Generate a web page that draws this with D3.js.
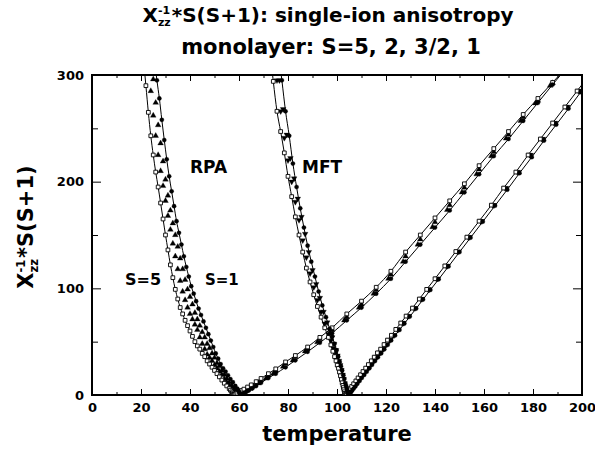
<!DOCTYPE html>
<html>
<head>
<meta charset="utf-8">
<script src="https://cdn.jsdelivr.net/npm/d3@7"></script>
<style>
  body { margin: 0; background: #fff; }
  svg text { font-family: "DejaVu Sans", "Liberation Sans", Arial, sans-serif; font-weight: bold; fill: #000; }
</style>
</head>
<body>
<svg id="chart" width="595" height="452"></svg>
<script>
  // tick values
  var xMajor = [0, 20, 40, 60, 80, 100, 120, 140, 160, 180, 200];
  var xMinor = [10, 30, 50, 70, 90, 110, 130, 150, 170, 190];
  var yMajor = [0, 100, 200, 300];
  var yMinor = [50, 150, 250];

  // RPA, [temperature, X^-1 * S(S+1)]
  var rpaS5 = [[21,315],[22,290],[23,265],[24,243],[25,225],[26,209],[27,195],[28,180],[29,165],[30,150],[31,136],[32,122],[33,110],[34,99],[35,90],[36,82],[37,76],[38,70],[39,65],[40,60],[41,55],[42,50],[43,46],[44,43],[45,39],[46,36],[47,32],[48,29],[49,26],[50,23],[51,20],[52,17],[53,14],[54,11],[55,8.5],[56,6],[56.5,4.5],[57,3],[57.3,2],[57.6,1.2],[57.8,0.6],[58,0],
    [58.3,0.5],[58.7,1],[59.2,1.7],[60,2.8],[61,4.2],[62,5.5],[63.5,7.5],[65,9.5],[67,12.5],[69,15.5],[72,20],[75,24.5],[79,31],[83,37],[88,45],[93,54],[98,63],[104,76],[110,88],[116,101],[122,116],[128,134],[134,150],[140,166],[146,182],[152,198],[158,215],[164,231],[170,247],[176,263],[182,278],[188,293],[192,303]];
  var rpaS2 = [[23,311],[24,285],[25,262],[26,243],[27,225],[28,210],[29,196],[30,182],[31,168],[32,155],[33,142],[34,130],[35,118],[36,107],[37,97],[38,89],[39,82],[40,76],[41,71],[42,66],[43,61],[44,54],[45,48],[46,43],[47,38],[48,35],[49,32],[50,28],[51,25],[52,22],[53,19],[54,15],[55,12],[56,9],[57,6.5],[57.6,5],[58,3.5],[58.4,2.3],[58.7,1.3],[58.9,0.6],[59.1,0],
    [59.4,0.5],[59.8,1],[60.3,1.7],[61,2.7],[62,4],[63.5,6.2],[65,8.3],[67,11.3],[69,14.3],[72,18.5],[75,23],[79,29.5],[83,35.8],[88,43.8],[93,52.5],[98,61],[104,73],[110,85],[116,98.5],[122,113],[128,130],[134,146],[140,162],[146,178],[152,194.5],[158,211.5],[164,228],[170,244],[176,260.5],[182,276],[188,292.5]];
  var rpaS32 = [[24,320],[25,296],[26,274],[27,253],[28,236],[29,219],[30,202],[31,187],[32,173],[33,161],[34,150],[35,139],[36,128],[37,118],[38,108],[39,99],[40,92],[41,85],[42,77],[43,71],[44,65],[45,59],[46,54],[47,48],[48,44],[49,39],[50,35],[51,30],[52,27],[53,23],[54,19],[55,15.5],[56,12],[57,9],[58,5.5],[58.6,4],[59,3],[59.4,2],[59.7,1],[60,0],
    [60.3,0.5],[60.7,1],[61.2,1.6],[62,2.5],[63,3.8],[64.5,5.8],[66,8],[68,11],[71,15.5],[74,20],[78,26.5],[82,32.5],[87,41],[92,49.5],[97,58],[103,70],[109,82],[115,95],[121,109],[127,125],[133,141],[139,157.5],[145,173.5],[151,190],[157,207],[163,224],[169,240.5],[175,257],[181,273.5],[187,290]];
  var rpaS1 = [[25.5,315],[26.5,295],[27.5,278],[28.5,258],[29.5,239],[30.5,221],[31.5,205],[32.5,191],[33.5,177],[34.5,163],[35.5,152],[36.5,141],[37.5,130],[38.5,120],[39.5,111],[40.5,102],[41.5,95],[42.5,88],[43.5,81],[44.5,75],[45.5,69],[46.5,63],[47.5,57],[48.5,51],[49.5,45],[50.5,39],[51.5,34],[52.5,29],[53.5,25],[54.5,22],[55.5,18.5],[56.5,15],[57.5,12],[58.5,8.5],[59.3,6],[59.8,4],[60.2,2.5],[60.5,1.3],[60.8,0],
    [61.1,0.4],[61.5,1],[62,1.7],[63,3],[64,4.3],[65.5,6.3],[67,8.5],[69,11.5],[72,16],[75,20],[79,26],[83,32.5],[88,40.5],[93,49],[98,58],[104,70],[110,82],[116,95],[122,109],[128,125],[134,141],[140,157],[146,173],[152,190],[158,207],[164,224],[170,240],[176,257],[182,274],[188,291],[192,302]];

  // MFT
  var mftS5 = [[73,315],[74,294],[75.5,266],[77,247],[78.5,227],[80,205],[81.5,186],[83,167],[84.5,150],[86,134],[87.5,119],[89,106],[90.5,94],[92,83],[93.5,73],[95,63],[96.5,54],[97.5,47],[98.3,41],[99,36],[99.6,32],[100.1,28],[100.6,25],[101,21.5],[101.4,18],[101.8,14.5],[102.1,11.5],[102.4,9],[102.6,7],[102.8,5],[103,3],[103.15,1.5],[103.3,0],
    [103.5,0.6],[103.8,1.5],[104.2,2.7],[104.7,4.2],[105.3,6],[106,8],[106.8,10.5],[107.7,13.2],[108.6,16],[109.6,19],[110.6,22],[111.7,25.2],[112.8,28.5],[114,32],[115.2,35.5],[116.5,39.5],[117.8,43],[119.2,47.3],[120.6,51.5],[122.2,56],[124,61.5],[126,67.5],[128.2,74],[130.8,81.5],[133.6,90],[136.6,99],[140,109],[144,121],[148.5,134.5],[153,148],[158,163],[163,178],[168,194],[173,209],[178,225],[183,240],[188,255],[193,270],[198,285],[203,300]];
  var mftS2 = [[74.5,315],[75.5,295],[77,266],[78.5,241],[80,220],[81.5,200],[83,181],[84.5,164],[86,145],[87.5,129],[89,114],[90.5,101],[92,89],[93.5,78],[95,67],[96.5,57],[97.5,51],[98.5,44],[99.3,39],[100,34],[100.6,29.5],[101.1,25.5],[101.6,21],[102,17.5],[102.4,14],[102.8,10],[103.1,7.5],[103.4,5],[103.6,3],[103.8,1.5],[103.9,0],
    [104.1,0.6],[104.4,1.5],[104.8,2.7],[105.3,4.2],[105.9,6],[106.6,8],[107.4,10.5],[108.3,13.2],[109.2,16],[110.2,19],[111.2,22],[112.3,25.2],[113.4,28.5],[114.6,32],[115.8,35.5],[117.1,39.5],[118.4,43],[119.8,47.3],[121.2,51.5],[122.8,56],[124.6,61.5],[126.6,67.5],[128.8,74],[131.4,81.5],[134.2,90],[137.2,99],[140.6,109],[144.6,121],[149.1,134.5],[153.6,148],[158.6,163],[163.6,178],[168.6,194],[173.6,209],[178.6,225],[183.6,240],[188.6,255],[193.6,270],[198.6,285]];
  var mftS32 = [[75.5,314],[76.5,295],[78,268],[79.5,244],[81,222],[82.5,203],[84,184],[85.5,167],[87,151],[88.5,134],[90,117],[91.5,104],[93,91],[94.5,78],[96,68],[97,61],[98,54],[98.8,48],[99.6,42],[100.2,37],[100.8,32],[101.3,28],[101.8,23.5],[102.3,19],[102.7,15],[103.1,11],[103.4,8],[103.7,5.5],[104,3],[104.2,1.5],[104.4,0],
    [104.6,0.6],[104.9,1.5],[105.3,2.7],[105.8,4.2],[106.4,6],[107.1,8],[107.9,10.5],[108.8,13.2],[109.7,16],[110.7,19],[111.7,22],[112.8,25.2],[113.9,28.5],[115.1,32],[116.3,35.5],[117.6,39.5],[118.9,43],[120.3,47.3],[121.7,51.5],[123.3,56],[125.1,61.5],[127.1,67.5],[129.3,74],[131.9,81.5],[134.7,90],[137.7,99],[141.1,109],[145.1,121],[149.6,134.5],[154.1,148],[159.1,163],[164.1,178],[169.1,194],[174.1,209],[179.1,225],[184.1,240],[189.1,255],[194.1,270],[199.1,285]];
  var mftS1 = [[76.6,312],[77.5,295],[79,266],[80.5,243],[82,217],[83.5,195],[85,175],[86.5,157],[88,140],[89.5,125],[91,111],[92.5,97],[94,84],[95.5,73],[97,62],[98,55],[99,48],[99.8,42],[100.5,36],[101.1,31],[101.6,27],[102.1,23],[102.6,18.5],[103,15],[103.4,11],[103.7,8.5],[104,6],[104.3,3.8],[104.5,2.2],[104.7,1],[104.8,0],
    [105,0.6],[105.3,1.5],[105.7,2.7],[106.2,4.2],[106.8,6],[107.5,8],[108.3,10.5],[109.2,13.2],[110.1,16],[111.1,18.8],[112.1,21.8],[113.2,25],[114.3,28.3],[115.5,31.8],[116.7,35.3],[118,39],[119.3,42.8],[120.7,47],[122.1,51.2],[123.7,55.8],[125.5,61],[127.5,67],[129.7,73.5],[132.3,81],[135.1,89.5],[138.1,98.5],[141.5,108.5],[145.5,120.5],[150,134],[154.5,147.5],[159.5,162.5],[164.5,177.5],[169.5,192.5],[174.5,208],[179.5,223],[184.5,238.5],[189.5,253.5],[194.5,268.5],[199.5,284],[204.5,299]];

  var series = [
    { data: rpaS2,  mark: "triUp",   line: false },
    { data: rpaS32, mark: "triUp",   line: false },
    { data: mftS2,  mark: "triDown", line: false },
    { data: mftS32, mark: "triDown", line: false },
    { data: rpaS5,  mark: "square",  line: true },
    { data: rpaS1,  mark: "circle",  line: true },
    { data: mftS5,  mark: "square",  line: true },
    { data: mftS1,  mark: "circle",  line: true }
  ];

  var svg = d3.select("#chart");
  var pLeft = 92, pRight = 582, pTop = 75, pBottom = 395;

  var x = d3.scaleLinear().domain([0, 200]).range([pLeft, pRight]);
  var y = d3.scaleLinear().domain([0, 300]).range([pBottom, pTop]);

  svg.append("clipPath").attr("id", "plotclip")
    .append("rect").attr("x", pLeft).attr("y", pTop).attr("width", pRight - pLeft).attr("height", pBottom - pTop);

  // ticks, all pointing inward
  function ticks(axis, vals, size, labels) {
    return axis.tickValues(vals).tickSize(size).tickPadding(8)
      .tickFormat(labels ? d3.format("d") : "");
  }
  function styleAxis(g) {
    g.select(".domain").remove();
    g.selectAll(".tick line").attr("stroke", "#000").attr("stroke-width", 1);
    g.selectAll(".tick text").style("font-size", "13px");
  }
  svg.append("g").attr("transform", "translate(0," + pBottom + ")").call(ticks(d3.axisBottom(x), xMinor, -3, false)).call(styleAxis);
  svg.append("g").attr("transform", "translate(0," + pBottom + ")").call(ticks(d3.axisBottom(x), xMajor, -6, true)).call(styleAxis);
  svg.append("g").attr("transform", "translate(0," + pTop + ")").call(ticks(d3.axisTop(x), xMinor, -3, false)).call(styleAxis);
  svg.append("g").attr("transform", "translate(0," + pTop + ")").call(ticks(d3.axisTop(x), xMajor, -6, false)).call(styleAxis);
  svg.append("g").attr("transform", "translate(" + pLeft + ",0)").call(ticks(d3.axisLeft(y), yMinor, -6, false)).call(styleAxis);
  svg.append("g").attr("transform", "translate(" + pLeft + ",0)").call(ticks(d3.axisLeft(y), yMajor, -9, true)).call(styleAxis);
  svg.append("g").attr("transform", "translate(" + pRight + ",0)").call(ticks(d3.axisRight(y), yMinor, -6, false)).call(styleAxis);
  svg.append("g").attr("transform", "translate(" + pRight + ",0)").call(ticks(d3.axisRight(y), yMajor, -9, false)).call(styleAxis);

  svg.append("rect")
    .attr("x", pLeft).attr("y", pTop).attr("width", pRight - pLeft).attr("height", pBottom - pTop)
    .attr("fill", "none").attr("stroke", "#000").attr("stroke-width", 2);

  var plot = svg.append("g").attr("clip-path", "url(#plotclip)");

  var line = d3.line()
    .x(function(d) { return x(d[0]); })
    .y(function(d) { return y(d[1]); })
    .curve(d3.curveMonotoneX);

  series.forEach(function(s) {
    if (s.line) {
      plot.append("path").datum(s.data)
        .attr("d", line).attr("fill", "none").attr("stroke", "#000").attr("stroke-width", 1);
    }
  });

  var symbols = {
    square:  d3.symbol().type(d3.symbolSquare).size(14),
    circle:  d3.symbol().type(d3.symbolCircle).size(14),
    triUp:   d3.symbol().type(d3.symbolTriangle).size(14),
    triDown: d3.symbol().type(d3.symbolTriangle).size(14)
  };

  series.forEach(function(s) {
    plot.append("g").selectAll("path").data(s.data).join("path")
      .attr("d", symbols[s.mark])
      .attr("transform", function(d) {
        return "translate(" + x(d[0]) + "," + y(d[1]) + ")" + (s.mark === "triDown" ? " rotate(180)" : "");
      })
      .attr("fill", s.mark === "square" ? "#fff" : "#000")
      .attr("stroke", "#000")
      .attr("stroke-width", s.mark === "square" ? 0.9 : 0.3);
  });

  // X^-1_zz with stacked super/subscript
  function chiLabel(t, size, rest) {
    t.append("tspan").text("X");
    var sup = t.append("tspan").style("font-size", (size * 0.55) + "px").attr("dy", -size * 0.38).text("-1");
    var w = sup.node().getComputedTextLength();
    var sub = t.append("tspan").style("font-size", (size * 0.55) + "px").attr("dx", -w).attr("dy", size * 0.6).text("zz");
    var w2 = sub.node().getComputedTextLength();
    t.append("tspan").attr("dx", Math.max(0, w - w2) + 1).attr("dy", -size * 0.22).text(rest);
  }

  var t1 = svg.append("text").attr("x", 328).attr("y", 22).attr("text-anchor", "middle").style("font-size", "20px");
  chiLabel(t1, 20, "*S(S+1): single-ion anisotropy");

  svg.append("text").attr("x", 331).attr("y", 54).attr("text-anchor", "middle").style("font-size", "21px")
    .text("monolayer: S=5, 2, 3/2, 1");

  svg.append("text").attr("x", 337).attr("y", 441).attr("text-anchor", "middle").style("font-size", "21px")
    .text("temperature");

  var yl = svg.append("text").attr("transform", "translate(33,227) rotate(-90)").attr("text-anchor", "middle").style("font-size", "21px");
  chiLabel(yl, 21, "*S(S+1)");

  svg.append("text").attr("x", 190).attr("y", 173).style("font-size", "17px").text("RPA");
  svg.append("text").attr("x", 302).attr("y", 173).style("font-size", "17px").text("MFT");
  svg.append("text").attr("x", 125).attr("y", 285).style("font-size", "16px").text("S=5");
  svg.append("text").attr("x", 205).attr("y", 285).style("font-size", "15px").text("S=1");
</script>
</body>
</html>
